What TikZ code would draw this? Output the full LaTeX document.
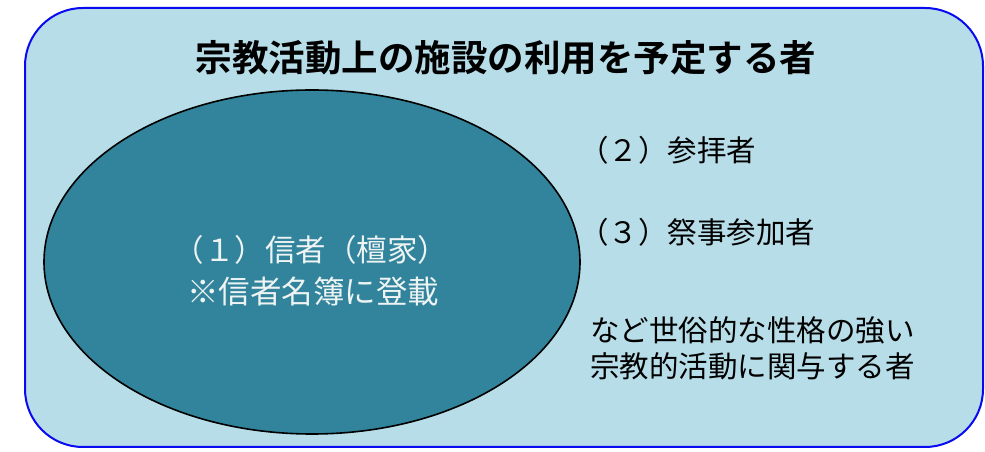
\documentclass[tikz,border=0pt]{standalone}
\usepackage{fontspec}
\usetikzlibrary{shapes.geometric}
\setmainfont{Noto Sans CJK JP}
\newfontfamily\jpbold{Noto Sans CJK JP Bold}
\definecolor{bgblue}{HTML}{B7DDE8}
\definecolor{tealfill}{HTML}{31849B}
\definecolor{frameblue}{HTML}{0A0AF0}
\definecolor{paletext}{HTML}{EEF3F4}
\begin{document}
\begin{tikzpicture}[x=1pt,y=1pt,
  bodytext/.style={anchor=west,inner sep=0pt,font=\fontsize{29.5}{36}\selectfont,text=black},
  innertext/.style={inner sep=0pt,text=paletext}]
\useasboundingbox (0,0) rectangle (985,452);
\fill[white] (0,0) rectangle (985,452);
\draw[frameblue,line width=2pt,fill=bgblue,rounded corners=58pt] (25,5) rectangle (983,444);
\node[draw=black,line width=1.6pt,fill=tealfill,ellipse,minimum width=536pt,minimum height=344pt,inner sep=0pt] (believers) at (312,190) {};
\node[innertext,font=\fontsize{30.5}{36}\selectfont] (believerstext) at (311,202) {（１）信者（檀家）};
\node[innertext,font=\fontsize{31.5}{36}\selectfont] (registertext) at (313,160) {※信者名簿に登載};
\node[inner sep=0pt,font=\jpbold\fontsize{36.5}{42}\selectfont] (title) at (506,394) {宗教活動上の施設の利用を予定する者};
\node[bodytext] (worship) at (579,302) {（２）参拝者};
\node[bodytext] (ritual) at (579,220) {（３）祭事参加者};
\node[bodytext,align=left] (others) at (590,104) {など世俗的な性格の強い\\宗教的活動に関与する者};
\end{tikzpicture}
\end{document}
